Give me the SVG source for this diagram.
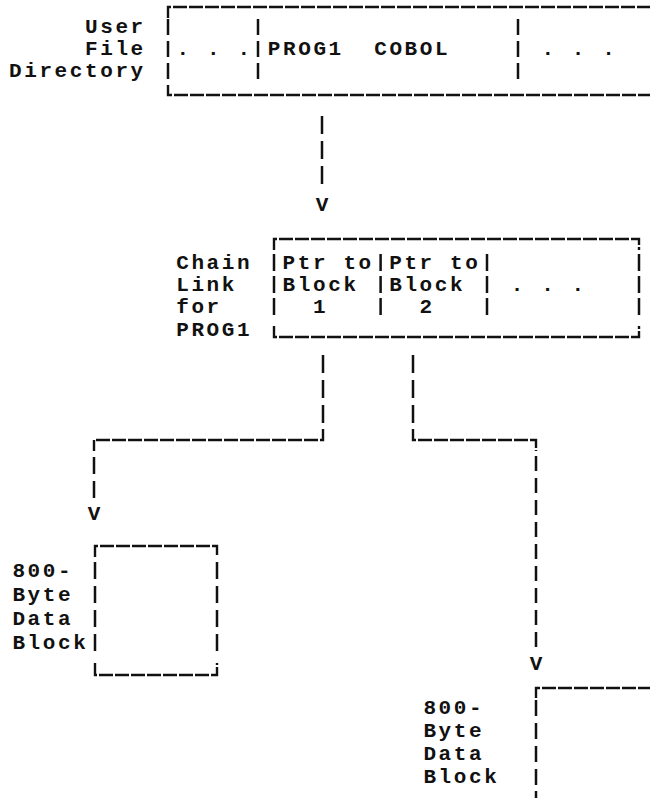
<svg xmlns="http://www.w3.org/2000/svg" width="650" height="798" viewBox="0 0 650 798">
<defs>
<style>
.t{font-family:"Liberation Mono","DejaVu Sans Mono",monospace;font-size:21px;font-weight:bold;letter-spacing:2.6px;fill:#111}
.v{font-family:"Liberation Mono","DejaVu Sans Mono",monospace;font-size:21px;font-weight:bold;fill:#111;text-anchor:middle}
.ln{fill:none;stroke:#111;stroke-width:2.5;stroke-linecap:butt}
.hd{fill:none;stroke:#111;stroke-width:2.4;stroke-dasharray:14 2}
</style>
</defs>
<rect width="650" height="798" fill="#fff"/>

<g id="user-file-directory">
<text class="t" x="85" y="33">User</text>
<text class="t" x="85" y="55">File</text>
<text class="t" x="9" y="77">Directory</text>
<path class="hd" d="M168,18 V7 H650"/>
<path class="hd" d="M168,85 V95 H650"/>
<path class="ln" d="M168,19 V35 M168,41 V57 M168,63 V79 M258,19 V35 M258,41 V57 M258,63 V79 M518,19 V35 M518,41 V57 M518,63 V79"/>
<text class="t" x="176.6" y="55">. . .</text>
<text class="t" x="267.8" y="55">PROG1</text>
<text class="t" x="374.2" y="55">COBOL</text>
<text class="t" x="541.4" y="55">. . .</text>
</g>

<g id="chain-link">
<text class="t" x="176.2" y="269">Chain</text>
<text class="t" x="176.2" y="291">Link</text>
<text class="t" x="176.2" y="313">for</text>
<text class="t" x="176.2" y="336">PROG1</text>
<path class="hd" d="M274,250 V239 H639 V250"/>
<path class="hd" d="M274,326 V337 H639 V326"/>
<path class="ln" d="M274,254 V271 M274,276 V293 M274,298 V315 M380.6,254 V271 M380.6,276 V293 M380.6,298 V315 M487,254 V271 M487,276 V293 M487,298 V315 M639,254 V271 M639,276 V293 M639,298 V315"/>
<text class="t" x="282.6" y="269">Ptr to</text>
<text class="t" x="282.6" y="291">Block</text>
<text class="t" x="313" y="313">1</text>
<text class="t" x="389.2" y="269">Ptr to</text>
<text class="t" x="389.2" y="291">Block</text>
<text class="t" x="419.6" y="313">2</text>
<text class="t" x="510.8" y="291">. . .</text>
</g>

<g id="data-block-1">
<text class="t" x="12.4" y="577">800-</text>
<text class="t" x="12.4" y="601">Byte</text>
<text class="t" x="12.4" y="625">Data</text>
<text class="t" x="12.4" y="649">Block</text>
<path class="hd" d="M95,557 V546 H217 V557"/>
<path class="hd" d="M95,663 V675 H217 V663"/>
<path class="ln" d="M95,562 V579 M95,586 V603 M95,610 V627 M95,634 V651 M217,562 V579 M217,586 V603 M217,610 V627 M217,634 V651"/>
</g>

<g id="data-block-2">
<text class="t" x="423.4" y="714">800-</text>
<text class="t" x="423.4" y="737">Byte</text>
<text class="t" x="423.4" y="760">Data</text>
<text class="t" x="423.4" y="783">Block</text>
<path class="hd" d="M536,698 V688 H650"/>
<path class="ln" d="M536,700 V716 M536,723 V739 M536,746 V762 M536,769 V785 M536,791 V798"/>
</g>

<g id="connectors">
<path class="ln" d="M322,116 V134 M322,141 V159 M322,166 V184"/>
<text class="v" x="322" y="211">V</text>
<path class="ln" d="M323,355 V373 M323,380 V398 M323,405 V423"/>
<path class="hd" d="M323,429 V440 H94 V451"/>
<path class="ln" d="M94,457 V474 M94,481 V498"/>
<text class="v" x="94" y="520">V</text>
<path class="ln" d="M413,355 V373 M413,380 V398 M413,405 V423"/>
<path class="hd" d="M413,429 V440 H536 V451"/>
<path class="ln" d="M536,456 V471 M536,478 V493 M536,500 V515 M536,522 V537 M536,544 V559 M536,566 V581 M536,588 V603 M536,610 V625 M536,632 V647"/>
<text class="v" x="536" y="670">V</text>
</g>
</svg>
